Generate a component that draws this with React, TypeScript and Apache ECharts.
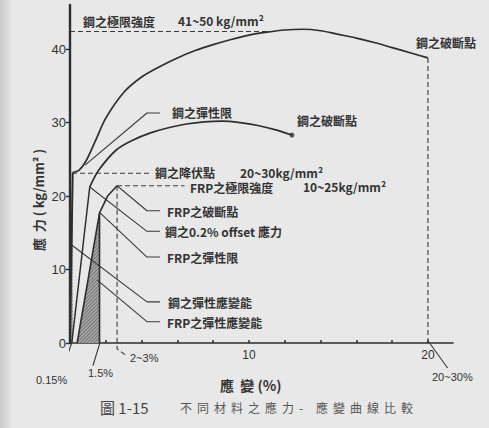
import React, { useEffect, useRef } from "react";
import * as echarts from "echarts";

// ---------- axes ----------
const X_MAX = 21.4;
const Y_MAX = 46;
const xLabelShown = [10, 20];
const yLabelShown = [0, 10, 20, 30, 40];

// ---------- steel (high) : elastic line + strain-hardening curve ----------
const steelElasticStrain = [0, 0.15];
const steelElasticStress = [0, 23.2];
const steelHighStrain = [0.15, 0.5, 0.9, 1.4, 2, 3, 4, 5, 6, 7, 8, 9, 10, 11, 12, 13, 14, 15, 16, 17, 18, 19, 20];
const steelHighStress = [23.2, 23.5, 24.8, 27.4, 30.6, 34.1, 36.2, 37.6, 38.8, 39.8, 40.6, 41.3, 41.9, 42.3, 42.6, 42.7, 42.5, 42.0, 41.5, 40.9, 40.2, 39.5, 38.8];

// ---------- steel (low) ----------
const steelLowStrain = [0.1, 1.1, 1.6, 2.6, 3.5, 4.5, 5.5, 6.5, 7.5, 8.5, 9.5, 10.5, 11.5, 12.4];
const steelLowStress = [0, 21.2, 23.5, 26.3, 27.6, 28.6, 29.3, 29.8, 30.1, 30.2, 30.0, 29.6, 29.0, 28.3];

// ---------- FRP ----------
const frpStrain = [0.4, 1.65, 2.1, 2.63];
const frpStress = [0, 17.7, 20.0, 21.4];

// ---------- hatched elastic strain-energy areas ----------
const frpEnergyStrain = [0.4, 1.65, 1.65];
const frpEnergyStress = [0, 17.7, 0];
const steelEnergyStrain = [0, 0.15, 0.15];
const steelEnergyStress = [0, 23.2, 0];

// ---------- reference levels ----------
const steelUltimate = 42.4;
const steelYield = 23.1;
const frpUltimate = 21.4;
const steelFracture = [20.0, 38.8];
const steelLowFracture = [12.4, 28.3];
const frpFracture = [2.63, 21.4];

// ---------- leader lines (data coordinates) ----------
const leaders: { pts: number[][]; dashed?: boolean }[] = [
  { pts: [[0, steelUltimate], [11.5, steelUltimate]], dashed: true },
  { pts: [[0.11, steelYield], [4.5, steelYield]], dashed: true },
  { pts: [frpFracture, [6.4, frpUltimate]], dashed: true },
  { pts: [[steelFracture[0], steelFracture[1]], [steelFracture[0], 0]], dashed: true },
  { pts: [[frpFracture[0], frpFracture[1]], [frpFracture[0], 0], [frpFracture[0], -0.8], [3.2, -1.8]], dashed: true },
  { pts: [[0.84, 24.2], [4.3, 31.3], [5.03, 31.3]] },
  { pts: [frpFracture, [4.3, 18.0], [5.03, 18.0]] },
  { pts: [[1.12, 21.2], [4.3, 15.2], [5.03, 15.2]] },
  { pts: [[1.68, 17.7], [4.3, 11.7], [5.03, 11.7]] },
  { pts: [[0.11, 13.3], [4.3, 5.6], [5.03, 5.6]] },
  { pts: [[1.51, 8.6], [4.3, 2.9], [5.03, 2.9]] },
  { pts: [[0.11, 0.1], [-0.39, -3.4]] },
  { pts: [[1.68, 0.1], [1.28, -3.1]] },
  { pts: [[20.0, 0.3], [21.1, -3.4]] },
];

// ---------- annotation texts ----------
const labelTexts = [
  "鋼之極限強度", "41~50 kg/mm²", "鋼之破斷點", "鋼之彈性限", "鋼之破斷點",
  "鋼之降伏點", "20~30kg/mm²", "FRP之極限強度", "10~25kg/mm²", "FRP之破斷點",
  "鋼之0.2% offset 應力", "FRP之彈性限", "鋼之彈性應變能", "FRP之彈性應變能",
];
const labelPos = [
  [83, 21], [178, 20], [416, 42], [172, 112], [297, 120],
  [155, 172], [240, 172], [190, 187], [303, 186], [167, 211],
  [165, 231], [167, 257], [168, 302], [167, 322],
];
const strainNotes = ["0.15%", "1.5%", "2~3%", "20~30%"];
const strainNotePos = [[36, 380], [88, 373], [130, 358], [432, 377]];
const captionHead = "圖 1-15";
const captionBody = "不同材料之應力-應變曲線比較";

const CJK = '"Noto Sans CJK TC", "Noto Sans CJK SC", "Noto Sans", sans-serif';
const INK = "#2e2e2e";

function pairs(xs: number[], ys: number[]) {
  return xs.map((x, i) => [x, ys[i]]);
}

function hatchSeries(xs: number[], ys: number[]) {
  return {
    type: "custom",
    coordinateSystem: "cartesian2d",
    data: [[xs[0], ys[0]]],
    clip: false,
    silent: true,
    z: 1,
    renderItem: (_p: any, api: any) => {
      const pts = xs.map((x, i) => api.coord([x, ys[i]]));
      const children: any[] = [
        { type: "polygon", shape: { points: pts }, style: { fill: "#a4a4a4", stroke: "none" } },
      ];
      const sums = pts.map((p: number[]) => p[0] + p[1]);
      const lo = Math.min(...sums);
      const hi = Math.max(...sums);
      for (let c = lo + 2; c < hi; c += 3.5) {
        const hits: number[][] = [];
        for (let i = 0; i < pts.length; i++) {
          const a = pts[i];
          const b = pts[(i + 1) % pts.length];
          const fa = a[0] + a[1] - c;
          const fb = b[0] + b[1] - c;
          if ((fa < 0 && fb >= 0) || (fa >= 0 && fb < 0)) {
            const t = fa / (fa - fb);
            hits.push([a[0] + t * (b[0] - a[0]), a[1] + t * (b[1] - a[1])]);
          }
        }
        if (hits.length >= 2) {
          children.push({
            type: "line",
            shape: { x1: hits[0][0], y1: hits[0][1], x2: hits[1][0], y2: hits[1][1] },
            style: { stroke: "#5a5a5a", lineWidth: 0.8 },
          });
        }
      }
      return { type: "group", children };
    },
  };
}

function curve(data: number[][], width = 1.6, smooth: number | boolean = false) {
  return {
    type: "line",
    data,
    symbol: "none",
    smooth,
    clip: false,
    silent: true,
    z: 3,
    lineStyle: { color: INK, width },
  };
}

export default function App() {
  const ref = useRef<HTMLDivElement>(null);

  useEffect(() => {
    if (!ref.current) return;
    const chart = echarts.init(ref.current, undefined, { renderer: "svg" });

    const series: any[] = [
      hatchSeries(steelEnergyStrain, steelEnergyStress),
      hatchSeries(frpEnergyStrain, frpEnergyStress),
      curve(pairs(steelElasticStrain, steelElasticStress), 2),
      curve(pairs(steelHighStrain, steelHighStress), 1.7, 0.3),
      curve(pairs(steelLowStrain.slice(0, 2), steelLowStress.slice(0, 2)), 1.5),
      curve(pairs(steelLowStrain.slice(1), steelLowStress.slice(1)), 1.7, 0.3),
      curve(pairs(frpStrain, frpStress), 1.6),
      {
        type: "scatter",
        data: [steelLowFracture],
        symbolSize: 5,
        itemStyle: { color: INK },
        silent: true,
        z: 4,
      },
      {
        type: "line",
        data: pairs(frpEnergyStrain.slice(1), frpEnergyStress.slice(1)),
        symbol: "none",
        silent: true,
        z: 3,
        lineStyle: { color: INK, width: 1.6 },
      },
    ];

    leaders.forEach((l) => {
      series.push({
        type: "line",
        data: l.pts,
        symbol: "none",
        clip: false,
        silent: true,
        z: 2,
        lineStyle: { color: "#3a3a3a", width: 1.1, type: l.dashed ? [5, 3] : "solid" },
      });
    });

    const graphics: any[] = [
      {
        type: "rect",
        shape: { x: 0, y: 0, width: 12, height: 428 },
        style: {
          fill: new echarts.graphic.LinearGradient(0, 0, 1, 0, [
            { offset: 0, color: "#c9c9c9" },
            { offset: 1, color: "#e8e8e8" },
          ]),
        },
        silent: true,
        z: -1,
      },
    ];

    labelTexts.forEach((t, i) => {
      graphics.push({
        type: "text",
        x: labelPos[i][0],
        y: labelPos[i][1],
        style: {
          text: t,
          fill: "#333",
          font: `bold 12px ${CJK}`,
          verticalAlign: "middle",
          align: "left",
        },
        silent: true,
      });
    });

    strainNotes.forEach((t, i) => {
      graphics.push({
        type: "text",
        x: strainNotePos[i][0],
        y: strainNotePos[i][1],
        style: {
          text: t,
          fill: "#333",
          font: `11px "Liberation Sans", sans-serif`,
          verticalAlign: "middle",
          align: "left",
        },
        silent: true,
      });
    });

    // axis titles
    graphics.push({
      type: "text",
      x: 220,
      y: 385,
      style: { text: "應  變 (%)", fill: "#333", font: `bold 14px ${CJK}`, verticalAlign: "middle" },
      silent: true,
    });
    graphics.push({
      type: "text",
      x: 38,
      y: 200,
      rotation: Math.PI / 2,
      style: {
        text: "應  力 ( kg/mm² )",
        fill: "#333",
        font: `bold 13px ${CJK}`,
        verticalAlign: "middle",
        align: "center",
      },
      silent: true,
    });

    // caption
    graphics.push({
      type: "text",
      x: 100,
      y: 407,
      style: { text: captionHead, fill: "#444", font: `15px ${CJK}`, verticalAlign: "middle" },
      silent: true,
    });
    Array.from(captionBody).forEach((ch, i) => {
      graphics.push({
        type: "text",
        x: 180 + i * 17,
        y: 407,
        style: { text: ch, fill: "#555", font: `12px ${CJK}`, verticalAlign: "middle" },
        silent: true,
      });
    });

    chart.setOption({
      animation: false,
      backgroundColor: "#e8e8e8",
      grid: { left: 70, top: 5, right: 36, bottom: 85, containLabel: false },
      xAxis: {
        type: "value",
        min: 0,
        max: X_MAX,
        interval: 2,
        axisLine: { show: true, onZero: false, lineStyle: { color: INK, width: 1.6 } },
        axisTick: { show: true, inside: true, length: 3, lineStyle: { color: INK, width: 1.5 } },
        axisLabel: {
          show: true,
          color: "#333",
          fontSize: 12,
          fontFamily: '"Liberation Sans", sans-serif',
          margin: 6,
          showMaxLabel: false,
          formatter: (v: number) => (xLabelShown.includes(Math.round(v * 100) / 100) ? String(v) : ""),
        },
        splitLine: { show: false },
      },
      yAxis: {
        type: "value",
        min: 0,
        max: Y_MAX,
        interval: 10,
        axisLine: { show: true, onZero: false, lineStyle: { color: INK, width: 2.4 } },
        axisTick: { show: true, inside: false, length: 4, lineStyle: { color: INK, width: 1.4 } },
        axisLabel: {
          show: true,
          color: "#333",
          fontSize: 13,
          fontFamily: '"Liberation Sans", sans-serif',
          margin: 4,
          showMaxLabel: false,
          formatter: (v: number) => (yLabelShown.includes(v) ? String(v) : ""),
        },
        splitLine: { show: false },
      },
      graphic: graphics,
      series,
    });

    return () => chart.dispose();
  }, []);

  return (
    <div
      ref={ref}
      style={{ position: "fixed", left: 0, top: 0, width: 489, height: 428 }}
    />
  );
}
